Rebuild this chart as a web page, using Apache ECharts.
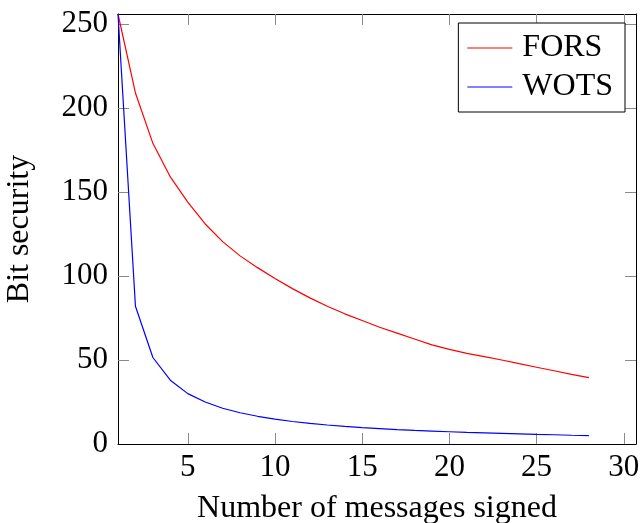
<!DOCTYPE html>
<html>
<head>
<meta charset="utf-8">
<script src="https://cdn.jsdelivr.net/npm/echarts@6/dist/echarts.min.js"></script>
<style>
html,body{margin:0;padding:0;background:#fff;}
#chart{width:640px;height:523px;}
</style>
</head>
<body>
<div id="chart"></div>
<script>
var messages = [1,2,3,4,5,6,7,8,9,10,11,12,13,14,15,16,17,18,19,20,21,22,23,24,25,26,27,28];
var fors = [256,209,179,159,144,131,120.5,112,105,98.5,92.5,87,82,77.5,73.5,69.5,66,62.5,59,56.3,54,52,50,47.8,45.7,43.6,41.5,39.5];
var wots = [256,82,51.5,38,30,25,21.3,18.6,16.5,14.8,13.4,12.3,11.3,10.5,9.8,9.2,8.6,8.1,7.7,7.3,6.9,6.6,6.3,6.0,5.7,5.5,5.2,5.0];
var xTicks = [5,10,15,20,25,30];
var yTicks = [0,50,100,150,200,250];
var yTickMarks = [50,100,150,200,250];   // the 0 mark sits on the frame

var font = "'Liberation Serif', 'DejaVu Serif', serif";

function pairs(ys){
    var out=[];
    for(var i=0;i<messages.length;i++){
        out.push([messages[i], ys[i]]);
    }
    return out;
}

function makeX(pos, labels){
    return {
        type: "value",
        position: pos,
        min: 1,
        max: 30.7,
        axisLine: {show: true, onZero: false, lineStyle: {color: "#000", width: 1}},
        axisTick: {show: true, inside: true, length: 11, customValues: xTicks, lineStyle: {color: "#8a8a8a"}},
        axisLabel: {show: labels, customValues: xTicks, margin: 8, color: "#000", fontFamily: font, fontSize: 31},
        splitLine: {show: false}
    };
}

function makeY(pos, labels){
    return {
        type: "value",
        position: pos,
        min: 0,
        max: 256,
        axisLine: {show: true, onZero: false, lineStyle: {color: "#000", width: 1}},
        axisTick: {show: true, inside: true, length: 11, customValues: yTickMarks, lineStyle: {color: "#8a8a8a"}},
        axisLabel: {show: labels, customValues: yTicks, margin: 10, color: "#000", fontFamily: font, fontSize: 31},
        splitLine: {show: false}
    };
}

var chart = echarts.init(document.getElementById("chart"));

var xMain = makeX("bottom", true);
xMain.name = "Number of messages signed";
xMain.nameLocation = "middle";
xMain.nameGap = 49;
xMain.nameTextStyle = {color: "#000", fontFamily: font, fontSize: 32};

var yMain = makeY("left", true);
yMain.name = "Bit security";
yMain.nameLocation = "middle";
yMain.nameGap = 82;
yMain.nameTextStyle = {color: "#000", fontFamily: font, fontSize: 32};

var option = {
    animation: false,
    backgroundColor: "#fff",
    grid: {left: 118, right: 4, top: 14, bottom: 79, containLabel: false, outerBoundsMode: "none"},
    legend: {
        orient: "vertical",
        right: 15,
        top: 23,
        padding: [9, 12, 9, 9],
        icon: "rect",
        itemWidth: 45,
        itemHeight: 1.2,
        itemGap: 7,
        borderColor: "#000",
        borderWidth: 1,
        backgroundColor: "#fff",
        textStyle: {color: "#000", fontFamily: font, fontSize: 32, lineHeight: 30, padding: [0, 0, 0, 5]},
        data: ["FORS", "WOTS"]
    },
    xAxis: [xMain, makeX("top", false)],
    yAxis: [yMain, makeY("right", false)],
    series: [{
        name: "FORS",
        type: "line",
        symbol: "none",
        color: "#ff0000",
        lineStyle: {color: "#ff0000", width: 1.2},
        data: pairs(fors)
    },{
        name: "WOTS",
        type: "line",
        symbol: "none",
        color: "#0000ff",
        lineStyle: {color: "#0000ff", width: 1.2},
        data: pairs(wots)
    }]
};

chart.setOption(option);
</script>
</body>
</html>
